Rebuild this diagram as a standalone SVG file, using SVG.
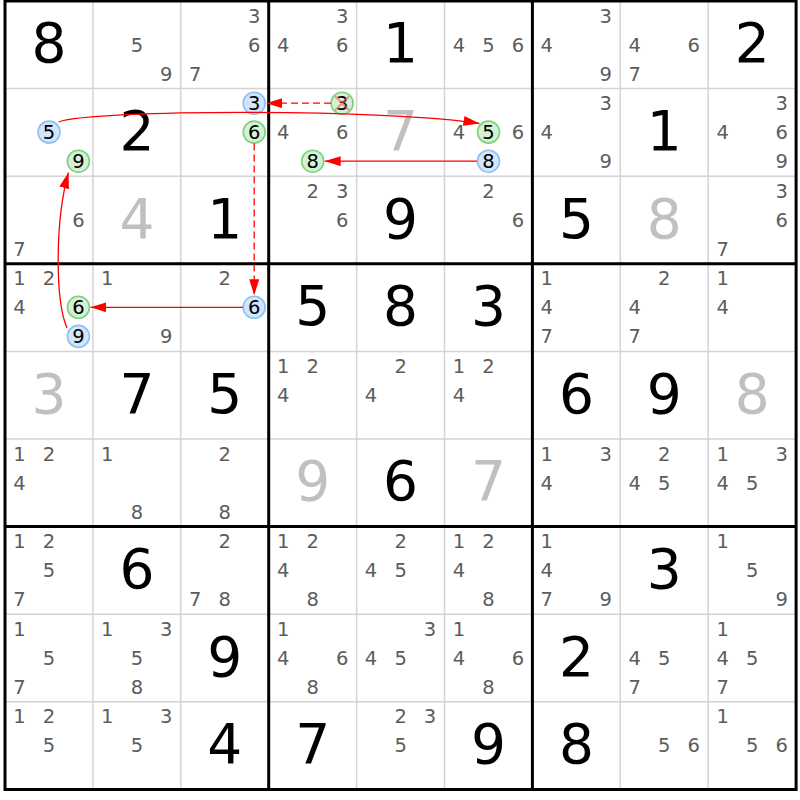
<svg xmlns="http://www.w3.org/2000/svg" width="800" height="800" viewBox="0 0 800 800">
<style>
text{font-family:"DejaVu Sans","Verdana",sans-serif;text-anchor:middle}
.c{font-size:19.5px;fill:#5c5c5c}
.h{font-size:19.5px;fill:#000}
.b{font-size:55px;fill:#000}
.g{font-size:55px;fill:#c0c0c0}
.cb{fill:#d3e5fb;stroke:#8fc1f0;stroke-width:1.6}
.cg{fill:#d5f1d5;stroke:#7dd27d;stroke-width:1.6}
.thin{stroke:#d4d4d4;stroke-width:1.5}
.thick{stroke:#000;stroke-width:3}
.ln{fill:none;stroke:red;stroke-width:1.3}
.dash{stroke-dasharray:7 4}
.x{stroke:#ff5050;stroke-opacity:0.6;stroke-width:2}
</style>
<defs>
<marker id="arr" viewBox="0 0 16 10" refX="16" refY="5" markerWidth="16" markerHeight="10" markerUnits="userSpaceOnUse" orient="auto"><path d="M0,0 L16,5 L0,10 z" fill="red"/></marker>
</defs>
<rect x="0" y="0" width="800" height="800" fill="#fff"/>
<g id="grid">
<path class="thin" d="M92.9 1V789.4M180.8 1V789.4M356.6 1V789.4M444.5 1V789.4M620.3 1V789.4M708.2 1V789.4M5 88.6H796.1M5 176.2H796.1M5 351.4H796.1M5 439H796.1M5 614.2H796.1M5 701.8H796.1"/>
<path class="thick" d="M5 1V789.4M268.7 1V789.4M532.4 1V789.4M796.1 1V789.4M3.5 1H797.6M3.5 263.8H797.6M3.5 526.6H797.6M3.5 789.4H797.6"/>
</g>
<!-- row 0 -->
<g id="r0c0" transform="translate(5,1)"><text class="b" x="44" y="61.4">8</text></g>
<g id="r0c1" transform="translate(92.9,1)"><text class="c" x="44" y="50.6">5</text><text class="c" x="73.4" y="79.7">9</text></g>
<g id="r0c2" transform="translate(180.8,1)"><text class="c" x="73.4" y="21.7">3</text><text class="c" x="73.4" y="50.6">6</text><text class="c" x="14.4" y="79.7">7</text></g>
<g id="r0c3" transform="translate(268.7,1)"><text class="c" x="73.4" y="21.7">3</text><text class="c" x="14.4" y="50.6">4</text><text class="c" x="73.4" y="50.6">6</text></g>
<g id="r0c4" transform="translate(356.6,1)"><text class="b" x="44" y="61.4">1</text></g>
<g id="r0c5" transform="translate(444.5,1)"><text class="c" x="14.4" y="50.6">4</text><text class="c" x="44" y="50.6">5</text><text class="c" x="73.4" y="50.6">6</text></g>
<g id="r0c6" transform="translate(532.4,1)"><text class="c" x="73.4" y="21.7">3</text><text class="c" x="14.4" y="50.6">4</text><text class="c" x="73.4" y="79.7">9</text></g>
<g id="r0c7" transform="translate(620.3,1)"><text class="c" x="14.4" y="50.6">4</text><text class="c" x="73.4" y="50.6">6</text><text class="c" x="14.4" y="79.7">7</text></g>
<g id="r0c8" transform="translate(708.2,1)"><text class="b" x="44" y="61.4">2</text></g>
<!-- row 1 -->
<g id="r1c0" transform="translate(5,88.6)"><circle class="cb" cx="44" cy="43.5" r="11"/><text class="h" x="44" y="50.6">5</text><circle class="cg" cx="73.4" cy="72.6" r="11"/><text class="h" x="73.4" y="79.7">9</text></g>
<g id="r1c1" transform="translate(92.9,88.6)"><text class="b" x="44" y="61.4">2</text></g>
<g id="r1c2" transform="translate(180.8,88.6)"><circle class="cb" cx="73.4" cy="14.6" r="11"/><text class="h" x="73.4" y="21.7">3</text><circle class="cg" cx="73.4" cy="43.5" r="11"/><text class="h" x="73.4" y="50.6">6</text></g>
<g id="r1c3" transform="translate(268.7,88.6)"><circle class="cg" cx="73.4" cy="14.6" r="11"/><text class="h" x="73.4" y="21.7">3</text><path class="x" d="M66.4 7.6L80.4 21.6M80.4 7.6L66.4 21.6"/><text class="c" x="14.4" y="50.6">4</text><text class="c" x="73.4" y="50.6">6</text><circle class="cg" cx="44" cy="72.6" r="11"/><text class="h" x="44" y="79.7">8</text></g>
<g id="r1c4" transform="translate(356.6,88.6)"><text class="g" x="44" y="61.4">7</text></g>
<g id="r1c5" transform="translate(444.5,88.6)"><text class="c" x="14.4" y="50.6">4</text><circle class="cg" cx="44" cy="43.5" r="11"/><text class="h" x="44" y="50.6">5</text><text class="c" x="73.4" y="50.6">6</text><circle class="cb" cx="44" cy="72.6" r="11"/><text class="h" x="44" y="79.7">8</text></g>
<g id="r1c6" transform="translate(532.4,88.6)"><text class="c" x="73.4" y="21.7">3</text><text class="c" x="14.4" y="50.6">4</text><text class="c" x="73.4" y="79.7">9</text></g>
<g id="r1c7" transform="translate(620.3,88.6)"><text class="b" x="44" y="61.4">1</text></g>
<g id="r1c8" transform="translate(708.2,88.6)"><text class="c" x="73.4" y="21.7">3</text><text class="c" x="14.4" y="50.6">4</text><text class="c" x="73.4" y="50.6">6</text><text class="c" x="73.4" y="79.7">9</text></g>
<!-- row 2 -->
<g id="r2c0" transform="translate(5,176.2)"><text class="c" x="73.4" y="50.6">6</text><text class="c" x="14.4" y="79.7">7</text></g>
<g id="r2c1" transform="translate(92.9,176.2)"><text class="g" x="44" y="61.4">4</text></g>
<g id="r2c2" transform="translate(180.8,176.2)"><text class="b" x="44" y="61.4">1</text></g>
<g id="r2c3" transform="translate(268.7,176.2)"><text class="c" x="44" y="21.7">2</text><text class="c" x="73.4" y="21.7">3</text><text class="c" x="73.4" y="50.6">6</text></g>
<g id="r2c4" transform="translate(356.6,176.2)"><text class="b" x="44" y="61.4">9</text></g>
<g id="r2c5" transform="translate(444.5,176.2)"><text class="c" x="44" y="21.7">2</text><text class="c" x="73.4" y="50.6">6</text></g>
<g id="r2c6" transform="translate(532.4,176.2)"><text class="b" x="44" y="61.4">5</text></g>
<g id="r2c7" transform="translate(620.3,176.2)"><text class="g" x="44" y="61.4">8</text></g>
<g id="r2c8" transform="translate(708.2,176.2)"><text class="c" x="73.4" y="21.7">3</text><text class="c" x="73.4" y="50.6">6</text><text class="c" x="14.4" y="79.7">7</text></g>
<!-- row 3 -->
<g id="r3c0" transform="translate(5,263.8)"><text class="c" x="14.4" y="21.7">1</text><text class="c" x="44" y="21.7">2</text><text class="c" x="14.4" y="50.6">4</text><circle class="cg" cx="73.4" cy="43.5" r="11"/><text class="h" x="73.4" y="50.6">6</text><circle class="cb" cx="73.4" cy="72.6" r="11"/><text class="h" x="73.4" y="79.7">9</text></g>
<g id="r3c1" transform="translate(92.9,263.8)"><text class="c" x="14.4" y="21.7">1</text><text class="c" x="73.4" y="79.7">9</text></g>
<g id="r3c2" transform="translate(180.8,263.8)"><text class="c" x="44" y="21.7">2</text><circle class="cb" cx="73.4" cy="43.5" r="11"/><text class="h" x="73.4" y="50.6">6</text></g>
<g id="r3c3" transform="translate(268.7,263.8)"><text class="b" x="44" y="61.4">5</text></g>
<g id="r3c4" transform="translate(356.6,263.8)"><text class="b" x="44" y="61.4">8</text></g>
<g id="r3c5" transform="translate(444.5,263.8)"><text class="b" x="44" y="61.4">3</text></g>
<g id="r3c6" transform="translate(532.4,263.8)"><text class="c" x="14.4" y="21.7">1</text><text class="c" x="14.4" y="50.6">4</text><text class="c" x="14.4" y="79.7">7</text></g>
<g id="r3c7" transform="translate(620.3,263.8)"><text class="c" x="44" y="21.7">2</text><text class="c" x="14.4" y="50.6">4</text><text class="c" x="14.4" y="79.7">7</text></g>
<g id="r3c8" transform="translate(708.2,263.8)"><text class="c" x="14.4" y="21.7">1</text><text class="c" x="14.4" y="50.6">4</text></g>
<!-- row 4 -->
<g id="r4c0" transform="translate(5,351.4)"><text class="g" x="44" y="61.4">3</text></g>
<g id="r4c1" transform="translate(92.9,351.4)"><text class="b" x="44" y="61.4">7</text></g>
<g id="r4c2" transform="translate(180.8,351.4)"><text class="b" x="44" y="61.4">5</text></g>
<g id="r4c3" transform="translate(268.7,351.4)"><text class="c" x="14.4" y="21.7">1</text><text class="c" x="44" y="21.7">2</text><text class="c" x="14.4" y="50.6">4</text></g>
<g id="r4c4" transform="translate(356.6,351.4)"><text class="c" x="44" y="21.7">2</text><text class="c" x="14.4" y="50.6">4</text></g>
<g id="r4c5" transform="translate(444.5,351.4)"><text class="c" x="14.4" y="21.7">1</text><text class="c" x="44" y="21.7">2</text><text class="c" x="14.4" y="50.6">4</text></g>
<g id="r4c6" transform="translate(532.4,351.4)"><text class="b" x="44" y="61.4">6</text></g>
<g id="r4c7" transform="translate(620.3,351.4)"><text class="b" x="44" y="61.4">9</text></g>
<g id="r4c8" transform="translate(708.2,351.4)"><text class="g" x="44" y="61.4">8</text></g>
<!-- row 5 -->
<g id="r5c0" transform="translate(5,439)"><text class="c" x="14.4" y="21.7">1</text><text class="c" x="44" y="21.7">2</text><text class="c" x="14.4" y="50.6">4</text></g>
<g id="r5c1" transform="translate(92.9,439)"><text class="c" x="14.4" y="21.7">1</text><text class="c" x="44" y="79.7">8</text></g>
<g id="r5c2" transform="translate(180.8,439)"><text class="c" x="44" y="21.7">2</text><text class="c" x="44" y="79.7">8</text></g>
<g id="r5c3" transform="translate(268.7,439)"><text class="g" x="44" y="61.4">9</text></g>
<g id="r5c4" transform="translate(356.6,439)"><text class="b" x="44" y="61.4">6</text></g>
<g id="r5c5" transform="translate(444.5,439)"><text class="g" x="44" y="61.4">7</text></g>
<g id="r5c6" transform="translate(532.4,439)"><text class="c" x="14.4" y="21.7">1</text><text class="c" x="73.4" y="21.7">3</text><text class="c" x="14.4" y="50.6">4</text></g>
<g id="r5c7" transform="translate(620.3,439)"><text class="c" x="44" y="21.7">2</text><text class="c" x="14.4" y="50.6">4</text><text class="c" x="44" y="50.6">5</text></g>
<g id="r5c8" transform="translate(708.2,439)"><text class="c" x="14.4" y="21.7">1</text><text class="c" x="73.4" y="21.7">3</text><text class="c" x="14.4" y="50.6">4</text><text class="c" x="44" y="50.6">5</text></g>
<!-- row 6 -->
<g id="r6c0" transform="translate(5,526.6)"><text class="c" x="14.4" y="21.7">1</text><text class="c" x="44" y="21.7">2</text><text class="c" x="44" y="50.6">5</text><text class="c" x="14.4" y="79.7">7</text></g>
<g id="r6c1" transform="translate(92.9,526.6)"><text class="b" x="44" y="61.4">6</text></g>
<g id="r6c2" transform="translate(180.8,526.6)"><text class="c" x="44" y="21.7">2</text><text class="c" x="14.4" y="79.7">7</text><text class="c" x="44" y="79.7">8</text></g>
<g id="r6c3" transform="translate(268.7,526.6)"><text class="c" x="14.4" y="21.7">1</text><text class="c" x="44" y="21.7">2</text><text class="c" x="14.4" y="50.6">4</text><text class="c" x="44" y="79.7">8</text></g>
<g id="r6c4" transform="translate(356.6,526.6)"><text class="c" x="44" y="21.7">2</text><text class="c" x="14.4" y="50.6">4</text><text class="c" x="44" y="50.6">5</text></g>
<g id="r6c5" transform="translate(444.5,526.6)"><text class="c" x="14.4" y="21.7">1</text><text class="c" x="44" y="21.7">2</text><text class="c" x="14.4" y="50.6">4</text><text class="c" x="44" y="79.7">8</text></g>
<g id="r6c6" transform="translate(532.4,526.6)"><text class="c" x="14.4" y="21.7">1</text><text class="c" x="14.4" y="50.6">4</text><text class="c" x="14.4" y="79.7">7</text><text class="c" x="73.4" y="79.7">9</text></g>
<g id="r6c7" transform="translate(620.3,526.6)"><text class="b" x="44" y="61.4">3</text></g>
<g id="r6c8" transform="translate(708.2,526.6)"><text class="c" x="14.4" y="21.7">1</text><text class="c" x="44" y="50.6">5</text><text class="c" x="73.4" y="79.7">9</text></g>
<!-- row 7 -->
<g id="r7c0" transform="translate(5,614.2)"><text class="c" x="14.4" y="21.7">1</text><text class="c" x="44" y="50.6">5</text><text class="c" x="14.4" y="79.7">7</text></g>
<g id="r7c1" transform="translate(92.9,614.2)"><text class="c" x="14.4" y="21.7">1</text><text class="c" x="73.4" y="21.7">3</text><text class="c" x="44" y="50.6">5</text><text class="c" x="44" y="79.7">8</text></g>
<g id="r7c2" transform="translate(180.8,614.2)"><text class="b" x="44" y="61.4">9</text></g>
<g id="r7c3" transform="translate(268.7,614.2)"><text class="c" x="14.4" y="21.7">1</text><text class="c" x="14.4" y="50.6">4</text><text class="c" x="73.4" y="50.6">6</text><text class="c" x="44" y="79.7">8</text></g>
<g id="r7c4" transform="translate(356.6,614.2)"><text class="c" x="73.4" y="21.7">3</text><text class="c" x="14.4" y="50.6">4</text><text class="c" x="44" y="50.6">5</text></g>
<g id="r7c5" transform="translate(444.5,614.2)"><text class="c" x="14.4" y="21.7">1</text><text class="c" x="14.4" y="50.6">4</text><text class="c" x="73.4" y="50.6">6</text><text class="c" x="44" y="79.7">8</text></g>
<g id="r7c6" transform="translate(532.4,614.2)"><text class="b" x="44" y="61.4">2</text></g>
<g id="r7c7" transform="translate(620.3,614.2)"><text class="c" x="14.4" y="50.6">4</text><text class="c" x="44" y="50.6">5</text><text class="c" x="14.4" y="79.7">7</text></g>
<g id="r7c8" transform="translate(708.2,614.2)"><text class="c" x="14.4" y="21.7">1</text><text class="c" x="14.4" y="50.6">4</text><text class="c" x="44" y="50.6">5</text><text class="c" x="14.4" y="79.7">7</text></g>
<!-- row 8 -->
<g id="r8c0" transform="translate(5,701.8)"><text class="c" x="14.4" y="21.7">1</text><text class="c" x="44" y="21.7">2</text><text class="c" x="44" y="50.6">5</text></g>
<g id="r8c1" transform="translate(92.9,701.8)"><text class="c" x="14.4" y="21.7">1</text><text class="c" x="73.4" y="21.7">3</text><text class="c" x="44" y="50.6">5</text></g>
<g id="r8c2" transform="translate(180.8,701.8)"><text class="b" x="44" y="61.4">4</text></g>
<g id="r8c3" transform="translate(268.7,701.8)"><text class="b" x="44" y="61.4">7</text></g>
<g id="r8c4" transform="translate(356.6,701.8)"><text class="c" x="44" y="21.7">2</text><text class="c" x="73.4" y="21.7">3</text><text class="c" x="44" y="50.6">5</text></g>
<g id="r8c5" transform="translate(444.5,701.8)"><text class="b" x="44" y="61.4">9</text></g>
<g id="r8c6" transform="translate(532.4,701.8)"><text class="b" x="44" y="61.4">8</text></g>
<g id="r8c7" transform="translate(620.3,701.8)"><text class="c" x="44" y="50.6">5</text><text class="c" x="73.4" y="50.6">6</text></g>
<g id="r8c8" transform="translate(708.2,701.8)"><text class="c" x="14.4" y="21.7">1</text><text class="c" x="44" y="50.6">5</text><text class="c" x="73.4" y="50.6">6</text></g>
<!-- connectors -->
<g id="connectors">
<path class="ln dash" d="M331 103.2L266.2 103.2" marker-end="url(#arr)"/>
<path class="ln" d="M58.5 122C95 109 390 109 479.5 123.5" marker-end="url(#arr)"/>
<path class="ln" d="M477 161.2L324.7 161.2" marker-end="url(#arr)"/>
<path class="ln dash" d="M254.2 143.5L254.2 295.3" marker-end="url(#arr)"/>
<path class="ln" d="M243 307.3L90.4 307.3" marker-end="url(#arr)"/>
<path class="ln" d="M67 328C55 300 55 220 68.5 172.5" marker-end="url(#arr)"/>
</g>
</svg>
